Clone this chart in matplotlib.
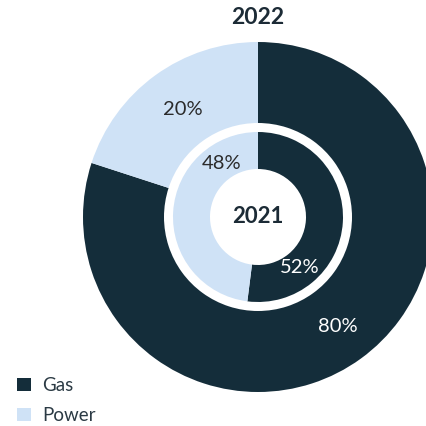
import matplotlib
matplotlib.use("Agg")
import matplotlib.pyplot as plt
from matplotlib.patches import Patch
import numpy as np

categories = ["Gas", "Power"]
values_2022 = [80, 20]
values_2021 = [52, 48]
colors = ["#142d3a", "#cfe2f6"]
text_colors = ["white", "#2b2b2b"]

plt.rcParams['font.family'] = ['Lato', 'DejaVu Sans']

W, H = 427, 426
fig = plt.figure(figsize=(W/100, H/100), dpi=100)
ax = fig.add_axes([0, 0, 1, 1])

cx, cy = 258, H - 217
R_out, w_out = 175, 81
R_in, w_in = 85, 37

ax.pie(values_2022, colors=colors, startangle=90, counterclock=False,
       center=(cx, cy), radius=R_out, frame=True,
       wedgeprops=dict(width=w_out, linewidth=0))
ax.pie(values_2021, colors=colors, startangle=90, counterclock=False,
       center=(cx, cy), radius=R_in, frame=True,
       wedgeprops=dict(width=w_in, linewidth=0))
ax.set_xlim(0, W)
ax.set_ylim(0, H)
ax.set_aspect('equal')
ax.axis('off')

# label positions (angle in degrees, radius)
lab_out = [(-54, 135), (125, 131)]
lab_in = [(-50.5, 66), (124.5, 65)]
for vals, labs in ((values_2022, lab_out), (values_2021, lab_in)):
    for i, v in enumerate(vals):
        a, r = labs[i]
        ax.text(cx + r*np.cos(np.radians(a)), cy + r*np.sin(np.radians(a)), f"{v}%",
                ha='center', va='center', fontsize=14.5, fontweight='normal',
                color=text_colors[i])

ax.text(cx, cy, "2021", ha='center', va='center', fontsize=16, fontweight='bold', color="#1c2b36")
ax.text(cx, H - 18, "2022", ha='center', va='center', fontsize=16.5, fontweight='bold', color="#1c2b36")

handles = [Patch(facecolor=c, edgecolor='none') for c in colors]
leg = fig.legend(handles, categories, loc='lower left', bbox_to_anchor=(0.0, -0.035),
                 frameon=False, handlelength=0.75, handleheight=0.75, handletextpad=0.6,
                 labelspacing=0.7, fontsize=13.5)
for t in leg.get_texts():
    t.set_color("#2b3a44")

fig.savefig("out.png", dpi=100)
